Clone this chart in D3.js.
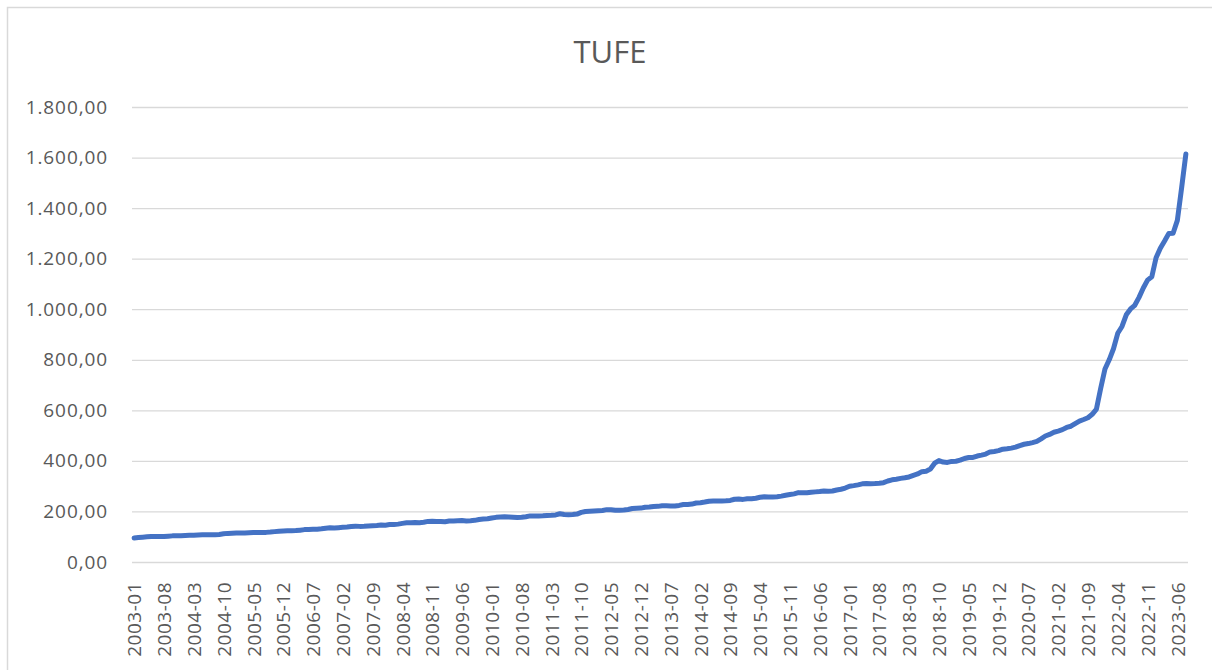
<!DOCTYPE html>
<html>
<head>
<meta charset="utf-8">
<script src="https://cdn.jsdelivr.net/npm/d3@7"></script>
<style>
  body { margin: 0; background: #fff; }
  svg text { font-family: "Open Sans", "Liberation Sans", sans-serif; fill: #595959; }
</style>
</head>
<body>
<svg id="chart" width="1212" height="670"></svg>
<script>
var title = "TUFE";
var start_year = 2003;
var y_ticks = [0, 200, 400, 600, 800, 1000, 1200, 1400, 1600, 1800];
var label_step = 7; // every 7th month gets a label

// TUFE index, monthly, 2003-01 .. 2023-08
var tufe_2003_2007 = [
  94.77, 96.48, 98.22, 99.50, 100.54, 100.65, 100.46, 100.58, 102.05, 103.36, 103.98, 104.15,
  104.87, 105.48, 106.25, 106.85, 107.44, 107.35, 107.64, 108.01, 108.91, 111.55, 113.22, 113.86,
  114.49, 114.51, 114.80, 115.59, 116.63, 116.53, 116.55, 117.18, 118.31, 120.18, 121.94, 122.65,
  123.57, 123.84, 124.18, 126.02, 128.09, 128.87, 129.65, 129.76, 131.26, 133.60, 135.16, 134.49,
  135.82, 137.18, 138.60, 140.59, 141.81, 140.93, 140.97, 142.25, 143.50, 144.72, 146.39, 145.77
];
var tufe_2008_2012 = [
  147.94, 148.13, 149.85, 152.78, 155.01, 155.25, 155.94, 155.44, 157.42, 160.55, 160.85, 159.93,
  160.27, 159.38, 161.86, 161.85, 162.87, 163.76, 162.62, 163.52, 164.81, 168.13, 170.05, 170.91,
  174.07, 176.59, 177.62, 178.68, 178.04, 177.04, 176.19, 176.90, 179.07, 182.35, 182.40, 181.85,
  182.60, 183.93, 184.70, 186.31, 190.81, 188.08, 187.31, 187.90, 189.55, 196.31, 199.70, 200.85,
  201.98, 203.12, 203.96, 207.05, 206.65, 204.76, 204.52, 205.43, 207.55, 211.51, 212.82, 213.23
];
var tufe_2013_2017 = [
  216.74, 217.39, 219.75, 220.07, 222.42, 222.44, 221.74, 221.46, 223.88, 227.21, 227.39, 229.01,
  233.54, 234.54, 237.18, 240.37, 241.32, 241.07, 241.35, 242.06, 243.74, 248.37, 248.82, 247.72,
  249.84, 250.45, 252.24, 256.12, 257.74, 257.27, 257.55, 258.12, 260.64, 264.13, 266.75, 269.54,
  274.45, 273.59, 273.67, 275.81, 277.41, 278.72, 280.81, 280.22, 281.01, 285.00, 287.81, 292.54,
  299.74, 302.17, 305.24, 309.23, 310.61, 309.77, 310.23, 311.84, 313.86, 320.41, 325.18, 327.41
];
var tufe_2018_2023 = [
  330.75, 333.17, 336.48, 342.78, 348.33, 357.42, 359.38, 367.65, 390.81, 401.25, 395.47, 393.88,
  398.07, 398.71, 402.82, 409.63, 413.52, 413.64, 419.26, 422.86, 427.04, 435.58, 437.24, 440.50,
  446.45, 448.01, 450.56, 454.39, 460.57, 465.78, 468.48, 472.51, 477.09, 487.25, 498.46, 504.81,
  513.30, 517.97, 523.56, 532.36, 537.10, 547.52, 557.38, 563.62, 570.66, 584.32, 604.84, 686.95,
  763.23, 799.93, 843.64, 904.79, 931.76, 977.90, 1001.03, 1015.65, 1046.89, 1083.96, 1115.18, 1128.45,
  1203.48, 1241.33, 1269.75, 1300.04, 1300.60, 1351.59, 1479.84, 1614.30
];

var values = tufe_2003_2007.concat(tufe_2008_2012, tufe_2013_2017, tufe_2018_2023);
var months = values.map(function(v, i) {
  var yr = start_year + Math.floor(i / 12), m = (i % 12) + 1;
  return yr + "-" + (m < 10 ? "0" + m : m);
});
var data = values.map(function(v, i) { return { month: months[i], value: v }; });

var svg = d3.select("svg#chart"),
  margin = { top: 107, right: 24, bottom: 108, left: 132 },
  width = +svg.attr("width") - margin.left - margin.right,
  height = +svg.attr("height") - margin.top - margin.bottom;

// chart frame (Excel chart area border)
svg.append("rect")
  .attr("x", 7.5).attr("y", 7.5)
  .attr("width", 1300).attr("height", 800)
  .attr("fill", "#fff").attr("stroke", "#d9d9d9").attr("stroke-width", 1.5);

svg.append("text")
  .attr("x", 610).attr("y", 63)
  .attr("text-anchor", "middle")
  .style("font-size", "31px")
  .text(title);

var g = svg.append("g").attr("transform", "translate(" + margin.left + "," + margin.top + ")");

var x = d3.scalePoint()
  .domain(months)
  .range([0, width])
  .padding(0.5);

var y = d3.scaleLinear()
  .domain([0, 1800])
  .range([height, 0]);

var fmt = d3.formatLocale({ decimal: ",", thousands: ".", grouping: [3], currency: ["", "₺"] }).format(",.2f");

var yAxis = d3.axisLeft(y)
  .tickValues(y_ticks)
  .tickSize(-width)
  .tickPadding(24)
  .tickFormat(fmt);

g.append("g")
  .call(function(a) {
    a.call(yAxis);
    a.select(".domain").remove();
    a.selectAll(".tick line").attr("stroke", "#d9d9d9").attr("stroke-width", 1.3);
    a.selectAll(".tick text")
      .attr("fill", "#595959")
      .style("font-size", "19px")
      .style("letter-spacing", "0.9px")
      .style("font-family", "'Open Sans', sans-serif");
  });

var xAxis = d3.axisBottom(x)
  .tickValues(months.filter(function(d, i) { return i % label_step === 0; }))
  .tickSize(0);

g.append("g")
  .attr("transform", "translate(0," + height + ")")
  .call(function(a) {
    a.call(xAxis);
    a.select(".domain").remove();
    a.selectAll(".tick text")
      .attr("fill", "#595959")
      .attr("transform", "rotate(-90)")
      .attr("text-anchor", "end")
      .attr("x", -20)
      .attr("y", 0)
      .attr("dy", "0.35em")
      .style("font-size", "19px")
      .style("letter-spacing", "0.5px")
      .style("font-family", "'Open Sans', sans-serif");
  });

var line = d3.line()
  .x(function(d) { return x(d.month); })
  .y(function(d) { return y(d.value); });

g.append("path")
  .datum(data)
  .attr("fill", "none")
  .attr("stroke", "#4472C4")
  .attr("stroke-width", 5)
  .attr("stroke-linejoin", "round")
  .attr("stroke-linecap", "round")
  .attr("d", line);
</script>
</body>
</html>
